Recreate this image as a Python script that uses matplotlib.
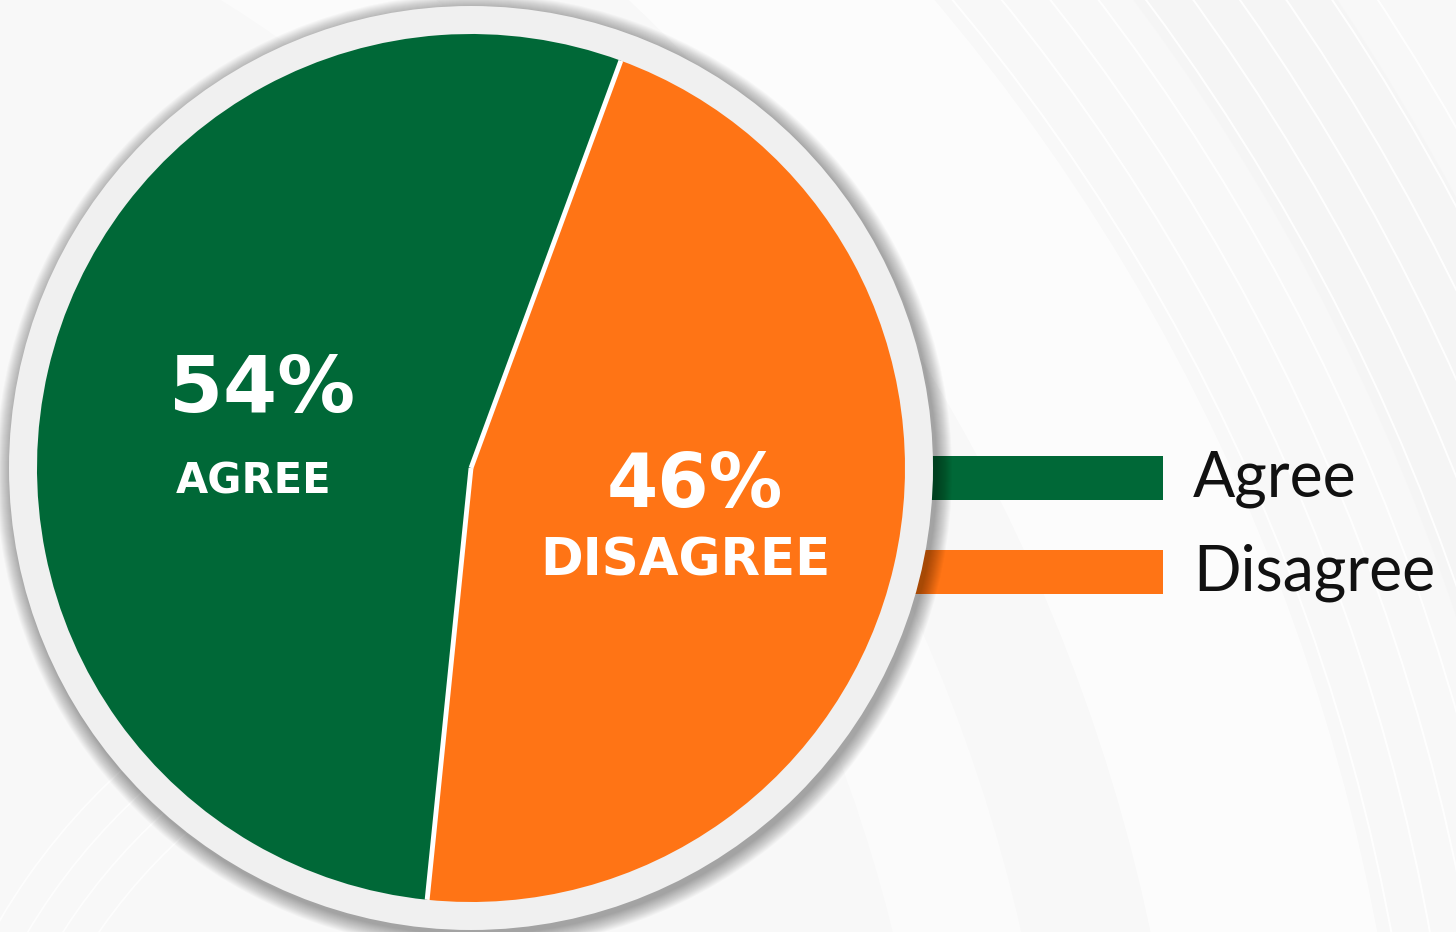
import numpy as np
import matplotlib.pyplot as plt
from matplotlib.patches import Circle, Arc

# Survey result
labels = ["Agree", "Disagree"]
shares = [54, 46]
colors = ["#006837", "#FF7415"]

W, H = 1456, 932
CX, CY = 471, 468          # pie centre (pixels, y down)
R_PIE = 434
R_RING = 462

fig = plt.figure(figsize=(W / 100, H / 100), dpi=100)
fig.patch.set_facecolor("#F8F8F8")
ax = fig.add_axes([0, 0, 1, 1])
ax.set_facecolor("#F8F8F8")

# --- background swooshes: faint curved bands and thin white lines
for r, lw, c, a in [(1900, 160, "#FDFDFD", 0.9), (2250, 120, "#F5F5F5", 0.7),
                    (1600, 90, "#FCFCFC", 0.8)]:
    ax.add_patch(Arc((-600, 1300), 2 * r, 2 * r, theta1=-90, theta2=0,
                     color=c, lw=lw, alpha=a, zorder=0))
for k in range(10):
    r = 2025 + 38 * k
    ax.add_patch(Arc((-600, 1300), 2 * r, 2 * r, theta1=-90, theta2=0,
                     color="white", lw=1.4, alpha=0.95, zorder=0.5))
for k in range(4):
    r = 560 + 30 * k
    ax.add_patch(Arc((560, 1250), 2 * r, 2 * r, theta1=180, theta2=250,
                     color="white", lw=1.2, alpha=0.8, zorder=0.5))

# --- legend swatches (run in from under the ring)
bar_rows = [478, 572]
ax.barh(bar_rows, [1163 - 880] * 2, left=880, height=44, color=colors, zorder=1)

# --- soft drop shadow around the ring
for i in range(16, 0, -1):
    ax.add_patch(Circle((CX + 3, CY + 4), R_RING + i, color="black",
                        alpha=0.022, lw=0, zorder=2))

ax.add_patch(Circle((CX, CY), R_RING, color="#F0F0F0", lw=0, zorder=3))

# --- the pie itself; disagree wedge centred a little below horizontal
fracs = np.array(shares) / sum(shares)
dis_mid = 13.0
start = dis_mid - (fracs[0] * 360 + fracs[1] * 180)
wedges, _ = ax.pie(shares, colors=colors, center=(CX, CY), radius=R_PIE,
                   startangle=start, counterclock=True,
                   wedgeprops=dict(linewidth=0, zorder=4))
for w in wedges:
    w.set_zorder(4)

# white separators along wedge boundaries
bounds = start + np.cumsum(np.concatenate([[0], fracs[:-1]])) * 360
for b in bounds:
    t = np.deg2rad(b)
    ax.plot([CX, CX + R_PIE * np.cos(t)], [CY, CY + R_PIE * np.sin(t)],
            color="white", lw=3.5, solid_capstyle="butt", zorder=5)

# --- value labels inside the wedges
bold = dict(color="white", fontweight="bold", family="DejaVu Sans",
            ha="center", va="baseline", zorder=6)
ax.text(262, 412, f"{shares[0]}%", fontsize=56, **bold)
ax.text(254, 493, labels[0].upper(), fontsize=30, **bold)
ax.text(695, 507, f"{shares[1]}%", fontsize=53, **bold)
ax.text(685, 575, labels[1].upper(), fontsize=37, **bold)

# --- legend text
for y, lab in zip([497, 590], labels):
    ax.text(1193, y, lab, fontsize=45, family="Lato", color="#111111",
            ha="left", va="baseline", zorder=6)

ax.set_xlim(0, W)
ax.set_ylim(H, 0)
ax.set_aspect("equal")
ax.axis("off")

fig.savefig("out.png", dpi=100, facecolor=fig.get_facecolor())
